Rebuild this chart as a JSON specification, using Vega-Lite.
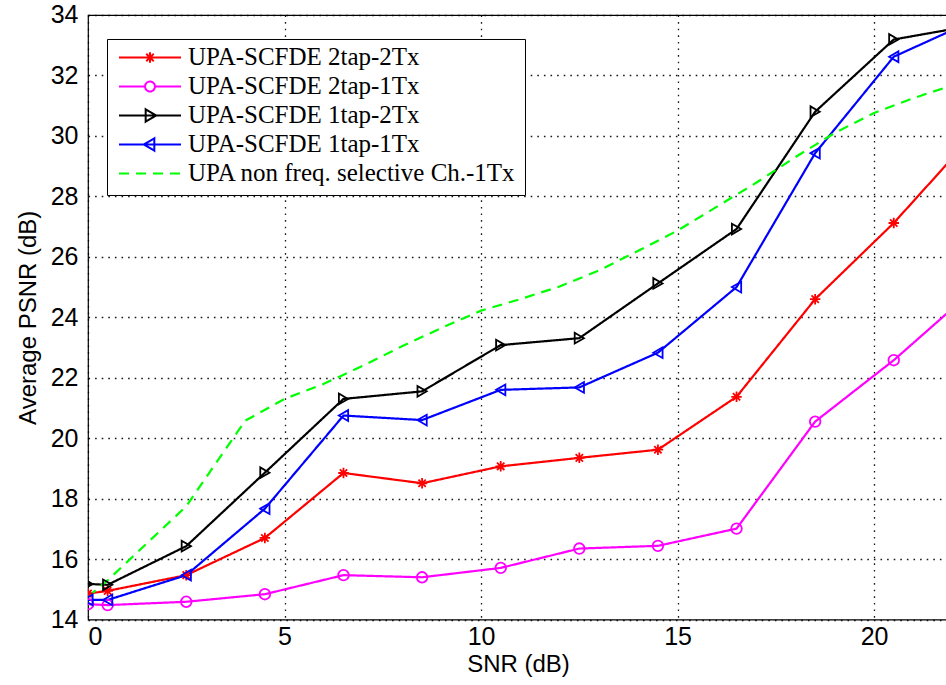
{
  "$schema": "https://vega.github.io/schema/vega-lite/v6.json",
  "autosize": "none",
  "width": 860,
  "height": 604.6,
  "padding": {"left": 88, "top": 15, "right": 0, "bottom": 66},
  "background": "white",
  "config": {
    "view": {"stroke": "#000000", "strokeWidth": 1.2},
    "axis": {
      "domain": false,
      "ticks": false,
      "grid": true,
      "gridColor": "#000000",
      "gridDash": [1.6, 5],
      "gridWidth": 1.3,
      "gridOpacity": 0.9,
      "labelFont": "Liberation Sans",
      "labelFontSize": 25,
      "labelColor": "#000000",
      "titleFont": "Liberation Sans",
      "titleFontSize": 24,
      "titleFontWeight": "normal",
      "titleColor": "#000000"
    }
  },
  "datasets": {
    "curves": [
      {"s": "UPA-SCFDE 2tap-2Tx", "snr": 0, "psnr": 14.86},
      {"s": "UPA-SCFDE 2tap-2Tx", "snr": 0.5, "psnr": 14.95},
      {"s": "UPA-SCFDE 2tap-2Tx", "snr": 2.5, "psnr": 15.47},
      {"s": "UPA-SCFDE 2tap-2Tx", "snr": 4.5, "psnr": 16.7},
      {"s": "UPA-SCFDE 2tap-2Tx", "snr": 6.5, "psnr": 18.85},
      {"s": "UPA-SCFDE 2tap-2Tx", "snr": 8.5, "psnr": 18.51},
      {"s": "UPA-SCFDE 2tap-2Tx", "snr": 10.5, "psnr": 19.07},
      {"s": "UPA-SCFDE 2tap-2Tx", "snr": 12.5, "psnr": 19.35},
      {"s": "UPA-SCFDE 2tap-2Tx", "snr": 14.5, "psnr": 19.62},
      {"s": "UPA-SCFDE 2tap-2Tx", "snr": 16.5, "psnr": 21.37},
      {"s": "UPA-SCFDE 2tap-2Tx", "snr": 18.5, "psnr": 24.6},
      {"s": "UPA-SCFDE 2tap-2Tx", "snr": 20.5, "psnr": 27.12},
      {"s": "UPA-SCFDE 2tap-2Tx", "snr": 22.5, "psnr": 30.0},

      {"s": "UPA-SCFDE 2tap-1Tx", "snr": 0, "psnr": 14.51},
      {"s": "UPA-SCFDE 2tap-1Tx", "snr": 0.5, "psnr": 14.48},
      {"s": "UPA-SCFDE 2tap-1Tx", "snr": 2.5, "psnr": 14.59},
      {"s": "UPA-SCFDE 2tap-1Tx", "snr": 4.5, "psnr": 14.84},
      {"s": "UPA-SCFDE 2tap-1Tx", "snr": 6.5, "psnr": 15.47},
      {"s": "UPA-SCFDE 2tap-1Tx", "snr": 8.5, "psnr": 15.4},
      {"s": "UPA-SCFDE 2tap-1Tx", "snr": 10.5, "psnr": 15.71},
      {"s": "UPA-SCFDE 2tap-1Tx", "snr": 12.5, "psnr": 16.35},
      {"s": "UPA-SCFDE 2tap-1Tx", "snr": 14.5, "psnr": 16.44},
      {"s": "UPA-SCFDE 2tap-1Tx", "snr": 16.5, "psnr": 17.01},
      {"s": "UPA-SCFDE 2tap-1Tx", "snr": 18.5, "psnr": 20.55},
      {"s": "UPA-SCFDE 2tap-1Tx", "snr": 20.5, "psnr": 22.58},
      {"s": "UPA-SCFDE 2tap-1Tx", "snr": 22.5, "psnr": 24.87},

      {"s": "UPA-SCFDE 1tap-2Tx", "snr": 0, "psnr": 15.18},
      {"s": "UPA-SCFDE 1tap-2Tx", "snr": 0.5, "psnr": 15.15},
      {"s": "UPA-SCFDE 1tap-2Tx", "snr": 2.5, "psnr": 16.43},
      {"s": "UPA-SCFDE 1tap-2Tx", "snr": 4.5, "psnr": 18.86},
      {"s": "UPA-SCFDE 1tap-2Tx", "snr": 6.5, "psnr": 21.3},
      {"s": "UPA-SCFDE 1tap-2Tx", "snr": 8.5, "psnr": 21.55},
      {"s": "UPA-SCFDE 1tap-2Tx", "snr": 10.5, "psnr": 23.08},
      {"s": "UPA-SCFDE 1tap-2Tx", "snr": 12.5, "psnr": 23.31},
      {"s": "UPA-SCFDE 1tap-2Tx", "snr": 14.5, "psnr": 25.12},
      {"s": "UPA-SCFDE 1tap-2Tx", "snr": 16.5, "psnr": 26.92},
      {"s": "UPA-SCFDE 1tap-2Tx", "snr": 18.5, "psnr": 30.8},
      {"s": "UPA-SCFDE 1tap-2Tx", "snr": 20.5, "psnr": 33.19},
      {"s": "UPA-SCFDE 1tap-2Tx", "snr": 22.5, "psnr": 33.65},

      {"s": "UPA-SCFDE 1tap-1Tx", "snr": 0, "psnr": 14.65},
      {"s": "UPA-SCFDE 1tap-1Tx", "snr": 0.5, "psnr": 14.65},
      {"s": "UPA-SCFDE 1tap-1Tx", "snr": 2.5, "psnr": 15.47},
      {"s": "UPA-SCFDE 1tap-1Tx", "snr": 4.5, "psnr": 17.67},
      {"s": "UPA-SCFDE 1tap-1Tx", "snr": 6.5, "psnr": 20.75},
      {"s": "UPA-SCFDE 1tap-1Tx", "snr": 8.5, "psnr": 20.6},
      {"s": "UPA-SCFDE 1tap-1Tx", "snr": 10.5, "psnr": 21.6},
      {"s": "UPA-SCFDE 1tap-1Tx", "snr": 12.5, "psnr": 21.68},
      {"s": "UPA-SCFDE 1tap-1Tx", "snr": 14.5, "psnr": 22.83},
      {"s": "UPA-SCFDE 1tap-1Tx", "snr": 16.5, "psnr": 25.0},
      {"s": "UPA-SCFDE 1tap-1Tx", "snr": 18.5, "psnr": 29.43},
      {"s": "UPA-SCFDE 1tap-1Tx", "snr": 20.5, "psnr": 32.62},
      {"s": "UPA-SCFDE 1tap-1Tx", "snr": 22.5, "psnr": 33.8},

      {"s": "UPA non freq. selective Ch.-1Tx", "snr": 0, "psnr": 14.75},
      {"s": "UPA non freq. selective Ch.-1Tx", "snr": 0.5, "psnr": 15.3},
      {"s": "UPA non freq. selective Ch.-1Tx", "snr": 2.5, "psnr": 17.75},
      {"s": "UPA non freq. selective Ch.-1Tx", "snr": 4, "psnr": 20.58},
      {"s": "UPA non freq. selective Ch.-1Tx", "snr": 5, "psnr": 21.3},
      {"s": "UPA non freq. selective Ch.-1Tx", "snr": 6, "psnr": 21.8},
      {"s": "UPA non freq. selective Ch.-1Tx", "snr": 7, "psnr": 22.4},
      {"s": "UPA non freq. selective Ch.-1Tx", "snr": 8, "psnr": 23.05},
      {"s": "UPA non freq. selective Ch.-1Tx", "snr": 9, "psnr": 23.65},
      {"s": "UPA non freq. selective Ch.-1Tx", "snr": 10, "psnr": 24.22},
      {"s": "UPA non freq. selective Ch.-1Tx", "snr": 11, "psnr": 24.6},
      {"s": "UPA non freq. selective Ch.-1Tx", "snr": 12, "psnr": 25.02},
      {"s": "UPA non freq. selective Ch.-1Tx", "snr": 13, "psnr": 25.55},
      {"s": "UPA non freq. selective Ch.-1Tx", "snr": 14, "psnr": 26.2},
      {"s": "UPA non freq. selective Ch.-1Tx", "snr": 15, "psnr": 26.87},
      {"s": "UPA non freq. selective Ch.-1Tx", "snr": 16, "psnr": 27.66},
      {"s": "UPA non freq. selective Ch.-1Tx", "snr": 17, "psnr": 28.45},
      {"s": "UPA non freq. selective Ch.-1Tx", "snr": 18, "psnr": 29.3},
      {"s": "UPA non freq. selective Ch.-1Tx", "snr": 19, "psnr": 30.1},
      {"s": "UPA non freq. selective Ch.-1Tx", "snr": 20, "psnr": 30.76},
      {"s": "UPA non freq. selective Ch.-1Tx", "snr": 21, "psnr": 31.25},
      {"s": "UPA non freq. selective Ch.-1Tx", "snr": 22, "psnr": 31.68}
    ]
  },
  "data": {"name": "curves"},
  "encoding": {
    "x": {
      "field": "snr", "type": "quantitative",
      "scale": {"domain": [0, 21.88], "nice": false, "zero": false},
      "axis": {"values": [0, 5, 10, 15, 20], "title": "SNR (dB)", "labelPadding": 5, "titlePadding": 3}
    },
    "y": {
      "field": "psnr", "type": "quantitative",
      "scale": {"domain": [14, 34], "nice": false, "zero": false},
      "axis": {"values": [14, 16, 18, 20, 22, 24, 26, 28, 30, 32, 34], "title": "Average PSNR (dB)", "labelPadding": 10, "titlePadding": 10}
    }
  },
  "layer": [
    {
      "mark": {"type": "line", "strokeWidth": 2.2, "clip": true},
      "encoding": {
        "color": {
          "field": "s", "type": "nominal",
          "scale": {
            "domain": ["UPA-SCFDE 2tap-2Tx", "UPA-SCFDE 2tap-1Tx", "UPA-SCFDE 1tap-2Tx", "UPA-SCFDE 1tap-1Tx", "UPA non freq. selective Ch.-1Tx"],
            "range": ["#ff0000", "#ff00ff", "#000000", "#0000ff", "#00ff00"]
          },
          "legend": {
            "title": null,
            "orient": "none",
            "legendX": 19,
            "legendY": 24,
            "strokeColor": "#000000",
            "fillColor": "#ffffff",
            "padding": 8,
            "symbolSize": 3844,
            "symbolOffset": 3,
            "symbolStrokeWidth": 2,
            "labelOffset": 6,
            "clipHeight": 21,
            "rowPadding": 3,
            "labelFont": "Liberation Serif",
            "labelFontSize": 25,
            "labelColor": "#000000",
            "labelLimit": 500,
            "encode": {
              "symbols": {
                "update": {
                  "shape": {"signal": "datum.value == 'UPA-SCFDE 2tap-2Tx' ? 'M-1,0H1M-0.17,0H0.17M0,-0.17V0.17M-0.12,-0.12L0.12,0.12M-0.12,0.12L0.12,-0.12' : datum.value == 'UPA-SCFDE 2tap-1Tx' ? 'M-1,0H-0.16A0.16,0.16,0,1,1,0.16,0H1M0.16,0A0.16,0.16,0,1,1,-0.16,0' : datum.value == 'UPA-SCFDE 1tap-2Tx' ? 'M-1,0H1M-0.14,-0.2L0.2,0L-0.14,0.2Z' : datum.value == 'UPA-SCFDE 1tap-1Tx' ? 'M-1,0H1M0.14,-0.2L-0.2,0L0.14,0.2Z' : 'M-1,0H1'"},
                  "strokeDash": {"signal": "datum.value == 'UPA non freq. selective Ch.-1Tx' ? [9, 6] : [1, 0]"},
                  "fill": {"value": "transparent"},
                  "strokeWidth": {"value": 2}
                }
              }
            }
          }
        },
        "strokeDash": {
          "field": "s", "type": "nominal",
          "scale": {
            "domain": ["UPA-SCFDE 2tap-2Tx", "UPA-SCFDE 2tap-1Tx", "UPA-SCFDE 1tap-2Tx", "UPA-SCFDE 1tap-1Tx", "UPA non freq. selective Ch.-1Tx"],
            "range": [[1, 0], [1, 0], [1, 0], [1, 0], [10, 7]]
          },
          "legend": null
        }
      }
    },
    {
      "transform": [{"filter": "datum.s != 'UPA non freq. selective Ch.-1Tx'"}],
      "mark": {"type": "point", "filled": false, "strokeWidth": 1.8, "opacity": 1, "clip": true},
      "encoding": {
        "color": {"field": "s", "type": "nominal", "legend": null},
        "shape": {
          "field": "s", "type": "nominal",
          "scale": {
            "domain": ["UPA-SCFDE 2tap-2Tx", "UPA-SCFDE 2tap-1Tx", "UPA-SCFDE 1tap-2Tx", "UPA-SCFDE 1tap-1Tx"],
            "range": ["M-1,0L1,0M0,-1L0,1M-0.7,-0.7L0.7,0.7M-0.7,0.7L0.7,-0.7", "circle", "triangle-right", "triangle-left"]
          },
          "legend": null
        },
        "size": {
          "field": "s", "type": "nominal",
          "scale": {
            "domain": ["UPA-SCFDE 2tap-2Tx", "UPA-SCFDE 2tap-1Tx", "UPA-SCFDE 1tap-2Tx", "UPA-SCFDE 1tap-1Tx"],
            "range": [110, 115, 170, 170]
          },
          "legend": null
        }
      }
    }
  ]
}
